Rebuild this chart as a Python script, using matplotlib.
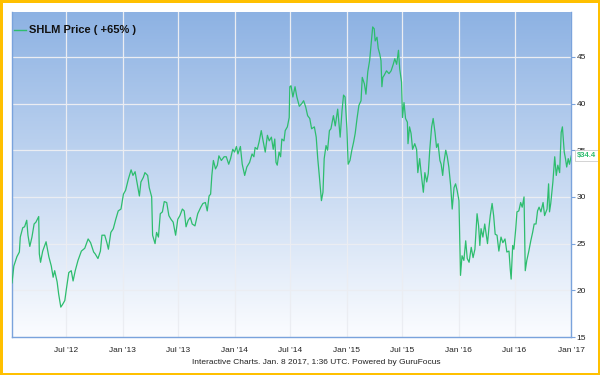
#!/usr/bin/env python3
# -*- coding: utf-8 -*-

"""
SHLM price history, GuruFocus style interactive chart
"""

# Modules

import numpy as np
import matplotlib
matplotlib.use("Agg")
import matplotlib.pyplot as plt
import matplotlib.dates as mdates
from matplotlib.patches import Rectangle


# Data

start_date = "2012-01-07"

# days since start_date
day_offset = [
    0, 6, 16, 24, 27, 35, 41, 48, 52, 58, 65, 72, 78, 87, 89, 93, 100, 111, 120, 128,
    134, 139, 147, 152, 159, 165, 172, 177, 185, 193, 199, 206, 215, 226, 237, 248, 256, 266, 271, 280,
    288, 293, 302, 309, 314, 322, 330, 338, 346, 355, 363, 370, 379, 388, 394, 401, 409, 415, 420, 428,
    433, 442, 447, 455, 458, 466, 471, 477, 483, 490, 496, 504, 511, 518, 525, 533, 540, 547, 555, 561,
    567, 574, 581, 587, 596, 605, 615, 622, 630, 636, 642, 647, 651, 656, 663, 669, 674, 682, 691, 698,
    706, 712, 719, 725, 731, 736, 744, 750, 758, 765, 774, 782, 788, 792, 799, 805, 812, 818, 825, 832,
    838, 845, 851, 856, 860, 864, 870, 875, 879, 886, 890, 897, 903, 905, 909, 915, 922, 928, 936, 944,
    950, 957, 963, 970, 976, 985, 991, 996, 1001, 1008, 1013, 1017, 1023, 1028, 1034, 1039, 1047, 1053, 1061, 1069,
    1075, 1080, 1085, 1091, 1095, 1101, 1107, 1113, 1118, 1124, 1130, 1137, 1141, 1148, 1153, 1159, 1165, 1169, 1175, 1180,
    1183, 1189, 1193, 1198, 1202, 1205, 1208, 1212, 1220, 1228, 1235, 1242, 1247, 1253, 1259, 1263, 1269, 1272, 1277, 1282,
    1288, 1290, 1295, 1300, 1305, 1312, 1318, 1322, 1328, 1333, 1340, 1345, 1351, 1356, 1361, 1367, 1372, 1378, 1383, 1388,
    1394, 1398, 1403, 1407, 1413, 1418, 1423, 1429, 1434, 1440, 1445, 1450, 1456, 1459, 1461, 1466, 1472, 1478, 1483, 1489,
    1496, 1502, 1508, 1515, 1520, 1524, 1528, 1534, 1540, 1545, 1549, 1554, 1558, 1564, 1569, 1574, 1580, 1586, 1593, 1599,
    1606, 1612, 1619, 1623, 1626, 1631, 1635, 1641, 1645, 1651, 1657, 1662, 1668, 1672, 1677, 1683, 1690, 1696, 1701, 1707,
    1712, 1717, 1723, 1730, 1735, 1743, 1748, 1751, 1755, 1762, 1768, 1773, 1778, 1784, 1789, 1793, 1799, 1803, 1807, 1812,
    1816, 1822,
]

price = [
    20.8, 22.6, 23.6, 24.1, 25.7, 26.7, 26.8, 27.5, 25.9, 24.7, 25.7, 27.1, 27.3, 27.9, 23.9, 23.0, 24.2, 25.2, 23.6, 22.6,
    21.4, 22.1, 20.9, 19.6, 18.2, 18.5, 18.9, 20.1, 21.9, 22.1, 21.0, 22.1, 23.2, 24.2, 24.5, 25.5, 25.1, 24.1, 23.9, 23.4,
    24.2, 25.9, 25.9, 25.1, 24.4, 26.2, 26.6, 27.6, 28.5, 28.7, 30.3, 30.7, 31.9, 32.9, 32.3, 32.7, 31.2, 30.1, 31.6, 32.1,
    32.6, 32.3, 31.0, 30.0, 25.9, 25.0, 26.2, 25.7, 28.2, 28.4, 29.5, 29.4, 28.0, 27.6, 27.3, 25.9, 27.6, 28.0, 28.7, 28.5,
    26.8, 27.5, 27.8, 27.1, 26.9, 28.2, 28.9, 29.3, 29.4, 28.5, 30.1, 30.3, 32.3, 33.9, 33.0, 33.4, 34.4, 33.9, 34.3, 34.3,
    33.5, 34.1, 35.1, 34.8, 35.4, 34.6, 35.4, 33.5, 32.3, 33.2, 33.7, 34.6, 34.3, 35.3, 35.1, 35.9, 37.1, 36.0, 34.8, 36.6,
    36.0, 36.4, 35.1, 36.2, 33.7, 33.4, 34.8, 34.3, 36.2, 36.0, 37.1, 37.5, 38.5, 41.8, 41.9, 40.7, 41.8, 40.7, 39.7, 40.0,
    40.3, 39.6, 38.7, 38.4, 37.3, 37.5, 36.4, 34.1, 32.3, 29.6, 30.5, 34.1, 35.5, 35.0, 37.1, 37.3, 38.7, 37.6, 39.4, 36.4,
    39.2, 40.9, 40.7, 37.3, 33.5, 33.9, 35.0, 35.9, 36.8, 38.4, 39.8, 40.3, 42.8, 42.1, 41.0, 43.4, 44.6, 46.0, 48.2, 48.0,
    46.7, 47.1, 45.9, 45.3, 44.6, 41.8, 42.8, 43.0, 43.5, 43.2, 43.5, 44.2, 44.8, 44.2, 45.7, 43.7, 42.3, 38.5, 40.1, 38.4,
    38.0, 35.7, 37.5, 36.8, 35.1, 35.7, 35.1, 32.6, 34.1, 32.5, 30.5, 32.6, 31.6, 32.5, 35.1, 37.5, 38.4, 36.9, 35.3, 35.7,
    33.9, 33.5, 32.3, 33.7, 35.0, 34.3, 33.2, 31.2, 28.7, 31.0, 31.4, 30.7, 29.6, 24.8, 21.6, 23.7, 23.2, 25.3, 23.4, 23.0,
    24.6, 23.5, 24.4, 28.2, 26.9, 24.8, 26.6, 25.7, 27.1, 25.9, 25.0, 26.8, 28.0, 29.3, 28.0, 26.0, 25.9, 24.2, 25.7, 25.1,
    25.5, 24.1, 24.2, 22.3, 21.2, 24.8, 24.4, 26.6, 28.4, 28.5, 29.4, 28.9, 30.0, 22.1, 23.2, 24.1, 25.3, 26.2, 27.1, 27.1,
    28.5, 28.9, 28.4, 29.4, 28.0, 28.7, 31.4, 28.4, 29.3, 31.6, 34.3, 32.3, 33.4, 32.6, 36.9, 37.5, 34.8, 34.1, 33.2, 34.1,
    33.5, 34.4,
]

tick_dates = ["2012-07-01", "2013-01-01", "2013-07-01", "2014-01-01", "2014-07-01",
              "2015-01-01", "2015-07-01", "2016-01-01", "2016-07-01", "2017-01-01"]
tick_labels = ["Jul '12", "Jan '13", "Jul '13", "Jan '14", "Jul '14",
               "Jan '15", "Jul '15", "Jan '16", "Jul '16", "Jan '17"]
y_ticks = [15, 20, 25, 30, 35, 40, 45]

legend_text = "SHLM Price ( +65% )"
last_label = "$34.4"
footer = "Interactive Charts. Jan. 8 2017, 1:36 UTC. Powered by GuruFocus"


# Main

if __name__ == "__main__":
    plt.rcParams["font.family"] = ["Liberation Sans", "DejaVu Sans"]

    green = "#2dbd6e"
    axis_blue = "#7aa3dc"

    dates = np.datetime64(start_date) + np.array(day_offset).astype("timedelta64[D]")

    fig = plt.figure(figsize=(6, 3.75), dpi=100)
    ax = fig.add_axes([12 / 600, 38 / 375, 559 / 600, 325 / 375])

    # background gradient, blue on top fading to white
    top = np.array([0.553, 0.698, 0.890])
    bottom = np.array([0.985, 0.99, 1.0])
    t = np.linspace(0, 1, 256)[:, None]
    grad = (top * (1 - t) + bottom * t)[:, None, :]
    ax.imshow(grad, extent=[0, 1, 0, 1], transform=ax.transAxes,
              aspect="auto", zorder=0, interpolation="bilinear")

    ax.plot(dates, price, color=green, lw=0.9, zorder=3)

    ax.set_xlim(np.datetime64(start_date), np.datetime64("2017-01-01"))
    ax.set_ylim(15, 49.8)

    ax.set_xticks([np.datetime64(d) for d in tick_dates])
    ax.set_xticklabels(tick_labels)
    ax.set_yticks(y_ticks)

    ax.grid(True, color="#ebedf2", lw=0.9, zorder=1)
    ax.set_axisbelow(True)

    ax.yaxis.tick_right()
    ax.tick_params(axis="y", direction="out", length=3, width=0.8, color=axis_blue,
                   labelsize=6, labelcolor="#222222", pad=1)
    ax.tick_params(axis="x", length=0, labelsize=6, labelcolor="#222222", pad=7)

    for side in ["left", "right", "bottom"]:
        ax.spines[side].set_color(axis_blue)
        ax.spines[side].set_linewidth(1)
    ax.spines["top"].set_visible(False)

    # legend
    ax.plot([0.004, 0.025], [0.945, 0.945], transform=ax.transAxes, color=green, lw=1)
    ax.text(0.03, 0.945, legend_text, transform=ax.transAxes, fontsize=8,
            fontweight="bold", va="center", ha="left", color="#111111")

    # last price tag
    ax.annotate(last_label, xy=(1.0, price[-1]), xycoords=("axes fraction", "data"),
                xytext=(4, 0), textcoords="offset points", va="center", ha="left",
                fontsize=5.5, fontweight="bold", color=green, annotation_clip=False,
                bbox=dict(boxstyle="square,pad=0.25", fc="white", ec="#cccccc", lw=0.6))

    fig.text(316 / 600, 1 - 362 / 375, footer, ha="center", va="center",
             fontsize=6, color="#222222")

    # orange frame round the figure
    fig.patches.append(Rectangle((0, 0), 1, 1, transform=fig.transFigure,
                                 fill=False, ec="#ffc000", lw=3.6))

    fig.savefig("out.png", dpi=100)
